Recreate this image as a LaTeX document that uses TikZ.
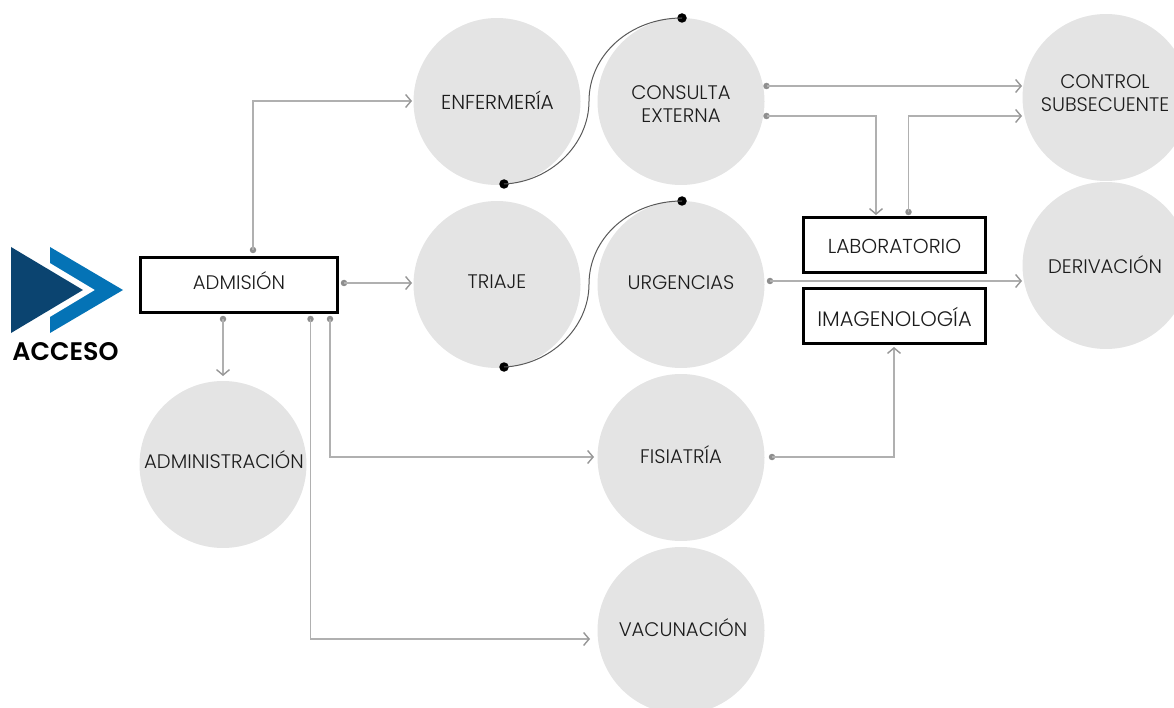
\documentclass[tikz,border=0pt]{standalone}
\usepackage{fontspec}
\setmainfont{Poppins Light}
\newfontfamily\boldf{Poppins SemiBold}
\usetikzlibrary{arrows.meta}
\definecolor{discfill}{HTML}{E4E4E4}
\definecolor{linec}{HTML}{B0B0B0}
\definecolor{dotc}{HTML}{8E8E8E}
\definecolor{tipc}{HTML}{969696}
\definecolor{textc}{HTML}{1C1C1C}
\definecolor{dkblue}{HTML}{0B4470}
\definecolor{ltblue}{HTML}{0473B6}
\tikzset{
  x=1pt,y=-1pt,
  disc/.style={circle,fill=discfill,minimum size=167pt,inner sep=0pt,outer sep=0pt},
  txt/.style={font=\fontsize{19.6}{23}\selectfont,text=textc,align=center,inner sep=0pt},
  box/.style={draw=black,line width=2.6pt,fill=white,minimum width=197pt,minimum height=55pt,inner sep=0pt},
  lbox/.style={box,minimum width=182pt},
  conn/.style={draw=linec,line width=1.3pt,-{Straight Barb[length=5.5pt,width=13pt,line width=1.4pt,color=tipc]}},
  pin/.style={circle,fill=dotc,minimum size=6.5pt,inner sep=0pt,outer sep=0pt},
  knob/.style={circle,fill=black,minimum size=9.5pt,inner sep=0pt,outer sep=0pt},
  arcl/.style={draw=black!65,line width=1pt},
}
\begin{document}
\begin{tikzpicture}
\useasboundingbox (0,0) rectangle (1174,708);
\clip (0,0) rectangle (1174,708);
% discs
\node[disc] (enf) at (497,101.5) {};
\node[disc] (con) at (681,101.5) {};
\node[disc] (tri) at (497,284.5) {};
\node[disc] (urg) at (681,284.5) {};
\node[disc] (adm2) at (223,464.5) {};
\node[disc] (fis) at (681,457.5) {};
\node[disc] (vac) at (681,630.5) {};
\node[disc] (ctl) at (1106,97.5) {};
\node[disc] (der) at (1106,265.5) {};
% boxes
\node[box] (adm) at (239,285) {};
\node[lbox] (lab) at (894.5,245) {};
\node[lbox] (ima) at (894.5,316) {};
% logo
\fill[dkblue] (11,247) -- (83,290) -- (11,333) -- cycle;
\fill[ltblue] (50,247) -- (123,290) -- (50,333) -- (50,317) -- (95,290) -- (50,263) -- cycle;
\node[font=\boldf\fontsize{25.4}{28}\selectfont,text=black,inner sep=0pt] (acc) at (65.5,351.5) {ACCESO};
% S curves
\node[knob] (k1) at (504,184) {};
\node[knob] (k2) at (682,18) {};
\node[knob] (k3) at (504,367) {};
\node[knob] (k4) at (682,201) {};
\draw[arcl] (k1.center) .. controls (550,182) and (589,145) .. (589,101) .. controls (589,55) and (630,18) .. (k2.center);
\draw[arcl] (k3.center) .. controls (550,365) and (589,328) .. (589,284) .. controls (589,238) and (630,201) .. (k4.center);
% pins
\node[pin] (p1) at (253,250) {};
\node[pin] (p2) at (344,283) {};
\node[pin] (p3) at (223,319) {};
\node[pin] (p4) at (330,319) {};
\node[pin] (p5) at (310.5,319) {};
\node[pin] (p6) at (766.5,86) {};
\node[pin] (p7) at (766.5,116) {};
\node[pin] (p8) at (908.5,212) {};
\node[pin] (p9) at (770,281) {};
\node[pin] (p10) at (772,457) {};
% ends
\coordinate (e1) at (412,101);
\coordinate (e2) at (412,283);
\coordinate (e3) at (223,376);
\coordinate (e4) at (594,457);
\coordinate (e5) at (590,639);
\coordinate (e6) at (1022,86);
\coordinate (e7) at (876,215);
\coordinate (e8) at (1022,116);
\coordinate (e9) at (1022,281);
\coordinate (e10) at (894,347);
% connectors
\draw[conn] (p1.center) |- (e1);
\draw[conn] (p2.center) -- (e2);
\draw[conn] (p3.center) -- (e3);
\draw[conn] (p4.center) |- (e4);
\draw[conn] (p5.center) |- (e5);
\draw[conn] (p6.center) -- (e6);
\draw[conn] (p7.center) -| (e7);
\draw[conn] (p8.center) |- (e8);
\draw[conn] (p9.center) -- (e9);
\draw[conn] (p10.center) -| (e10);
% labels
\node[txt,font=\fontsize{20.2}{23}\selectfont] (tenf) at (497.5,100.5) {ENFERMERÍA};
\node[txt] (tcon) at (681,104) {CONSULTA\\EXTERNA};
\node[txt] (ttri) at (497,282) {TRIAJE};
\node[txt] (turg) at (681,282.5) {URGENCIAS};
\node[txt] (tadm2) at (224,460) {ADMINISTRACIÓN};
\node[txt] (tfis) at (681,455) {FISIATRÍA};
\node[txt] (tvac) at (683,628) {VACUNACIÓN};
\node[txt] (tctl) at (1105,93.5) {CONTROL\\SUBSECUENTE};
\node[txt] (tder) at (1105,265) {DERIVACIÓN};
\node[txt] (tadm) at (239,281) {ADMISIÓN};
\node[txt,font=\fontsize{20.2}{23}\selectfont] (tlab) at (894.5,246.5) {LABORATORIO};
\node[txt,font=\fontsize{21}{23}\selectfont] (tima) at (894.5,317) {IMAGENOLOGÍA};
\end{tikzpicture}
\end{document}
